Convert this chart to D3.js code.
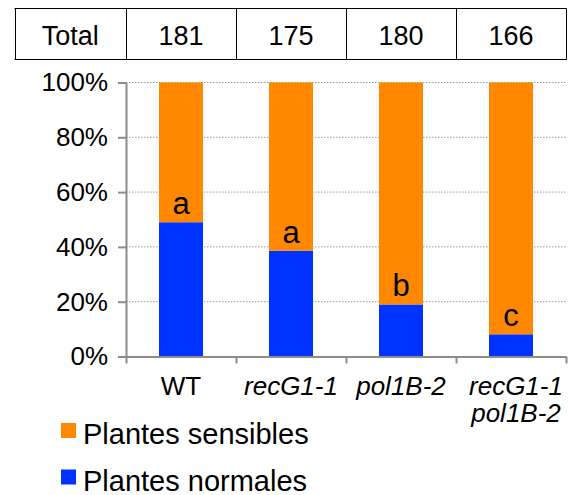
<!DOCTYPE html>
<html>
<head>
<meta charset="utf-8">
<script src="https://cdn.jsdelivr.net/npm/d3@7"></script>
<style>
  html, body { margin: 0; padding: 0; background: #fff; }
  svg { display: block; font-family: "Liberation Sans", Arial, sans-serif; }
</style>
</head>
<body>
<svg id="chart" width="575" height="495"></svg>
<script>
// ---- data ----
const categories = ["WT", "recG1-1", "pol1B-2", "recG1-1 pol1B-2"];
const categoryLines = [["WT"], ["recG1-1"], ["pol1B-2"], ["recG1-1", "pol1B-2"]];
const categoryItalic = [false, true, true, true];
const totals = [181, 175, 180, 166];
const normales = [49, 38.6, 19, 8.1];
const sensibles = [51, 61.4, 81, 91.9];
const letters = ["a", "a", "b", "c"];
const yTicks = [0, 20, 40, 60, 80, 100];
const seriesNames = ["Plantes sensibles", "Plantes normales"];
const seriesColors = ["#FF8800", "#0033FF"];
const tableHeader = "Total";

// ---- layout ----
const svg = d3.select("#chart");
const pLeft = 126, pRight = 566, pTop = 82.5, pBottom = 356.5;

const xCells = d3.scaleBand().domain(categories).range([pLeft, pRight]).padding(0);
const xBars = d3.scaleBand().domain(categories).range([pLeft, pRight]).paddingInner(0.6).paddingOuter(0.3);
const y = d3.scaleLinear().domain([0, 100]).range([pBottom, pTop]);

// gridlines
svg.append("g").selectAll("line").data(yTicks.filter(d => d > 0)).join("line")
  .attr("x1", pLeft).attr("x2", pRight)
  .attr("y1", d => y(d)).attr("y2", d => y(d))
  .attr("stroke", "#9a9a9a").attr("stroke-width", 1).attr("stroke-dasharray", "1.5,1.5");

// stacked bars
const rows = categories.map((c, i) => ({ cat: c, normales: normales[i], sensibles: sensibles[i] }));
const stack = d3.stack().keys(["normales", "sensibles"])(rows);
const colorByKey = { normales: seriesColors[1], sensibles: seriesColors[0] };
svg.append("g").selectAll("g").data(stack).join("g")
  .attr("fill", d => colorByKey[d.key])
  .selectAll("rect").data(d => d).join("rect")
  .attr("x", d => xBars(d.data.cat))
  .attr("width", xBars.bandwidth())
  .attr("y", d => y(d[1]))
  .attr("height", d => y(d[0]) - y(d[1]));

// significance letters
svg.append("g").selectAll("text").data(categories).join("text")
  .attr("x", c => xBars(c) + xBars.bandwidth() / 2)
  .attr("y", (c, i) => y(normales[i]) - 8)
  .attr("text-anchor", "middle")
  .attr("font-size", 31)
  .attr("fill", "#000")
  .text((c, i) => letters[i]);

// y axis
const yAxis = svg.append("g").attr("transform", `translate(${pLeft},0)`)
  .call(d3.axisLeft(y).tickValues(yTicks).tickFormat(d => d + "%").tickSize(8).tickSizeOuter(0).tickPadding(10));
yAxis.select(".domain").attr("stroke", "#8c8c8c").attr("stroke-width", 2);
yAxis.selectAll(".tick line").attr("stroke", "#8c8c8c").attr("stroke-width", 2);
yAxis.selectAll(".tick text").attr("font-size", 26).attr("fill", "#000")
  .attr("font-family", "Liberation Sans, Arial, sans-serif");

// x axis (category boundaries)
const xb = d3.scaleLinear().domain([0, categories.length]).range([pLeft, pRight]);
const xAxis = svg.append("g").attr("transform", `translate(0,${pBottom})`)
  .call(d3.axisBottom(xb).tickValues(d3.range(categories.length + 1)).tickFormat("").tickSize(7).tickSizeOuter(0));
xAxis.select(".domain").attr("stroke", "#8c8c8c").attr("stroke-width", 2);
xAxis.selectAll(".tick line").attr("stroke", "#8c8c8c").attr("stroke-width", 2);

// x labels
const xl = svg.append("g").selectAll("text").data(categories).join("text")
  .attr("x", (c, i) => xCells(c) + xCells.bandwidth() / 2 + (categoryLines[i].length > 1 ? 5 : 0))
  .attr("y", 395)
  .attr("text-anchor", "middle")
  .attr("font-size", 26)
  .attr("font-style", (c, i) => categoryItalic[i] ? "italic" : "normal")
  .attr("fill", "#000");
xl.selectAll("tspan").data((c, i) => categoryLines[i]).join("tspan")
  .attr("x", function() { return d3.select(this.parentNode).attr("x"); })
  .attr("dy", (d, j) => j === 0 ? 0 : 27)
  .text(d => d);

// table
const tTop = 8.5, tBottom = 59.5, tLeft = 14.5;
const tg = svg.append("g");
tg.append("line").attr("x1", tLeft).attr("x2", pRight + 0.5).attr("y1", tTop).attr("y2", tTop)
  .attr("stroke", "#000").attr("stroke-width", 1);
tg.append("line").attr("x1", tLeft).attr("x2", pRight + 0.5).attr("y1", tBottom).attr("y2", tBottom)
  .attr("stroke", "#000").attr("stroke-width", 1);
const vEdges = [tLeft].concat(categories.map(c => xCells(c)), [pRight]);
tg.selectAll("line.v").data(vEdges).join("line").attr("class", "v")
  .attr("x1", d => Math.round(d) + 0.5).attr("x2", d => Math.round(d) + 0.5)
  .attr("y1", tTop).attr("y2", tBottom)
  .attr("stroke", "#000").attr("stroke-width", 1);
tg.append("text").attr("x", (tLeft + pLeft) / 2).attr("y", 45)
  .attr("text-anchor", "middle").attr("font-size", 27).text(tableHeader);
tg.selectAll("text.v").data(categories).join("text").attr("class", "v")
  .attr("x", c => xCells(c) + xCells.bandwidth() / 2).attr("y", 45)
  .attr("text-anchor", "middle").attr("font-size", 27)
  .text((c, i) => totals[i]);

// legend
const lg = svg.append("g").selectAll("g").data(seriesNames).join("g")
  .attr("transform", (d, i) => `translate(61,${423 + i * 46.5})`);
lg.append("rect").attr("width", 15).attr("height", 15).attr("fill", (d, i) => seriesColors[i]);
lg.append("text").attr("x", 22).attr("y", 21).attr("font-size", 29).attr("fill", "#000").text(d => d);
</script>
</body>
</html>
